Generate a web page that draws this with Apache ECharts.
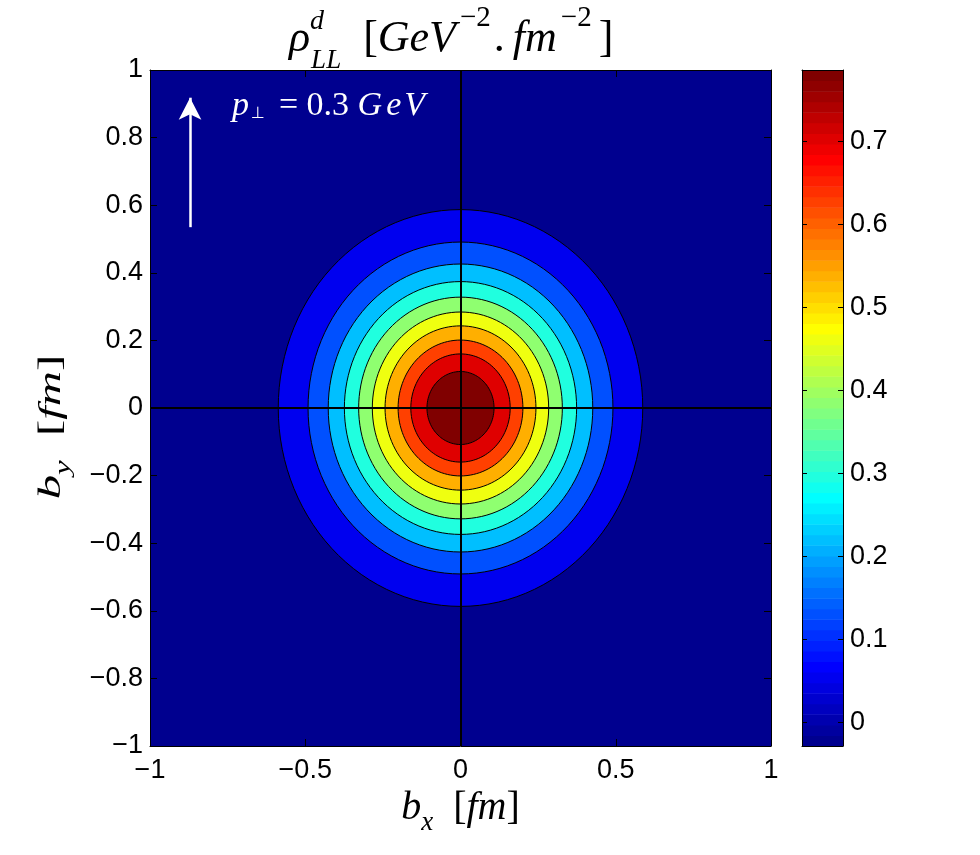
<!DOCTYPE html>
<html>
<head>
<meta charset="utf-8">
<script src="https://cdn.jsdelivr.net/npm/echarts@6/dist/echarts.min.js"></script>
<style>
html, body { margin: 0; background: #fff; }
#main { width: 980px; height: 855px; }
</style>
</head>
<body>
<div id="main"></div>
<script>
// filled contour bands, outermost first: radius of the band edge (fm) and the value it is filled with
var bandRadius = [0.587, 0.491, 0.426, 0.374, 0.328, 0.284, 0.243, 0.201, 0.160, 0.108];
var bandValue = [0.053, 0.134, 0.216, 0.297, 0.379, 0.460, 0.542, 0.623, 0.705, 0.786];
var outsideValue = -0.028;

// colour scale
var colorMin = -0.028, colorMax = 0.786;
var colorTicks = [0, 0.1, 0.2, 0.3, 0.4, 0.5, 0.6, 0.7];

// p_perp arrow (data coords)
var arrowFrom = [-0.871, 0.535];
var arrowTo = [-0.871, 0.918];

// matlab jet(64), row 1..64
function jetRow(i) {
    var r = i <= 24 ? 0 : i <= 40 ? (i - 24) / 16 : i <= 55 ? 1 : (72 - i) / 16;
    var g = i <= 8 ? 0 : i <= 24 ? (i - 8) / 16 : i <= 39 ? 1 : i <= 55 ? (56 - i) / 16 : 0;
    var b = i <= 8 ? (i + 8) / 16 : i <= 23 ? 1 : i <= 39 ? (40 - i) / 16 : 0;
    return 'rgb(' + Math.round(r * 255) + ',' + Math.round(g * 255) + ',' + Math.round(b * 255) + ')';
}
function jetColor(v) {
    var k = Math.floor((v - colorMin) / (colorMax - colorMin) * 64);
    k = Math.max(0, Math.min(63, k));
    return jetRow(k + 1);
}

var minus = function (v) { return String(v).replace('-', '\u2212'); };
var tickFont = { color: '#000', fontSize: 27, fontFamily: 'Liberation Sans' };
var serif = 'Liberation Serif, DejaVu Serif';
var blackLine = { onZero: false, lineStyle: { color: '#000', width: 1 } };

var myChart = echarts.init(document.getElementById('main'));

var stripes = [];
for (var s = 0; s < 64; s++) stripes.push([s]);

// rich styles for the latex-like labels
var labelRich = {
    i: { fontFamily: serif, fontStyle: 'italic', fontSize: 40, lineHeight: 56 },
    r: { fontFamily: serif, fontSize: 40, lineHeight: 56 },
    sub: { fontFamily: serif, fontStyle: 'italic', fontSize: 27, lineHeight: 28, verticalAlign: 'bottom' }
};

var option = {
    animation: false,
    grid: [
        { left: 150, top: 70, width: 621, height: 676, show: true, borderWidth: 0,
          backgroundColor: jetColor(outsideValue) },
        { left: 802, top: 70, width: 41, height: 676 }
    ],
    xAxis: [
        { gridIndex: 0, type: 'value', position: 'bottom', min: -1, max: 1, interval: 0.5, z: 5,
          axisLine: blackLine,
          axisTick: { inside: true, length: 7, lineStyle: { color: '#000' } },
          axisLabel: Object.assign({ margin: 11, formatter: minus }, tickFont),
          splitLine: { show: false },
          name: '{i|b}{sub|x}{r|  [}{i|fm}{r|]}', nameLocation: 'middle', nameGap: 19,
          nameTextStyle: { rich: labelRich } },
        { gridIndex: 0, type: 'value', position: 'top', min: -1, max: 1, interval: 0.5, z: 5,
          axisLine: blackLine,
          axisTick: { inside: true, length: 7, lineStyle: { color: '#000' } },
          axisLabel: { show: false }, splitLine: { show: false } },
        { gridIndex: 1, type: 'value', position: 'bottom', min: 0, max: 1, z: 5,
          axisLine: blackLine, axisTick: { show: false },
          axisLabel: { show: false }, splitLine: { show: false } },
        { gridIndex: 1, type: 'value', position: 'top', min: 0, max: 1, z: 5,
          axisLine: blackLine, axisTick: { show: false },
          axisLabel: { show: false }, splitLine: { show: false } }
    ],
    yAxis: [
        { gridIndex: 0, type: 'value', position: 'left', min: -1, max: 1, interval: 0.2, z: 5,
          axisLine: blackLine,
          axisTick: { inside: true, length: 7, lineStyle: { color: '#000' } },
          axisLabel: Object.assign({ margin: 7, formatter: minus }, tickFont),
          splitLine: { show: false } },
        { gridIndex: 0, type: 'value', position: 'right', min: -1, max: 1, interval: 0.2, z: 5,
          axisLine: blackLine,
          axisTick: { inside: true, length: 7, lineStyle: { color: '#000' } },
          axisLabel: { show: false }, splitLine: { show: false } },
        { gridIndex: 1, type: 'value', position: 'right', min: colorMin, max: colorMax, z: 5,
          axisLine: blackLine,
          axisTick: { inside: true, length: 5, customValues: colorTicks, lineStyle: { color: '#000' } },
          axisLabel: Object.assign({ margin: 7, customValues: colorTicks, formatter: minus }, tickFont),
          splitLine: { show: false } },
        { gridIndex: 1, type: 'value', position: 'left', min: colorMin, max: colorMax, z: 5,
          axisLine: blackLine,
          axisTick: { inside: true, length: 5, customValues: colorTicks, lineStyle: { color: '#000' } },
          axisLabel: { show: false }, splitLine: { show: false } }
    ],
    graphic: [
        // title  rho^d_LL [GeV^-2.fm^-2]
        { type: 'text', left: 289, top: 4, z: 10,
          style: {
              text: '{rho|\u03c1}{sup|d}{sub|LL}{r|  [}{i|GeV}{sup2|\u22122}{r|.}{fm|fm}{sup2|\u22122}{br|]}',
              rich: {
                  rho: { fontFamily: serif, fontStyle: 'italic', fontSize: 44, lineHeight: 70 },
                  sup: { fontFamily: serif, fontStyle: 'italic', fontSize: 28, lineHeight: 30, verticalAlign: 'top', width: 1, align: 'left', padding: [4, 0, 0, 0] },
                  sub: { fontFamily: serif, fontStyle: 'italic', fontSize: 27, lineHeight: 28, verticalAlign: 'bottom' },
                  i: { fontFamily: serif, fontStyle: 'italic', fontSize: 44, lineHeight: 70 },
                  fm: { fontFamily: serif, fontStyle: 'italic', fontSize: 44, lineHeight: 70, padding: [0, 0, 0, 8] },
                  r: { fontFamily: serif, fontSize: 44, lineHeight: 70 },
                  br: { fontFamily: serif, fontSize: 44, lineHeight: 70, padding: [0, 0, 0, 4] },
                  sup2: { fontFamily: serif, fontSize: 29, lineHeight: 28, verticalAlign: 'top', padding: [0, 3, 0, 4] }
              }
          } },
        // y axis label, drawn rotated
        { type: 'text', x: 52, y: 427, rotation: Math.PI / 2, scaleX: 1.22, scaleY: 0.8, z: 10,
          style: {
              text: '{i|b}{sub|y}{r|  [}{i|fm}{r|]}',
              align: 'center', verticalAlign: 'middle',
              rich: labelRich
          } },
        // p_perp annotation
        { type: 'text', left: 232, top: 89, z: 10,
          style: {
              text: '{i|p}{perp|\u22a5}{eq|=}{r| 0.3 }{G|G}{e|e}{i|V}',
              fill: '#fff',
              rich: {
                  i: { fontFamily: serif, fontStyle: 'italic', fontSize: 34, lineHeight: 40, fill: '#fff' },
                  G: { fontFamily: serif, fontStyle: 'italic', fontSize: 34, lineHeight: 40, fill: '#fff', padding: [0, 4, 0, 0] },
                  e: { fontFamily: serif, fontStyle: 'italic', fontSize: 34, lineHeight: 40, fill: '#fff', padding: [0, 3, 0, 0] },
                  r: { fontFamily: serif, fontSize: 34, lineHeight: 40, fill: '#fff' },
                  eq: { fontFamily: serif, fontSize: 34, lineHeight: 40, fill: '#fff', padding: [0, 0, 0, 14] },
                  perp: { fontFamily: 'DejaVu Sans', fontSize: 16, lineHeight: 16, verticalAlign: 'bottom', fill: '#fff', padding: [0, 0, 4, 2] }
              }
          } }
    ],
    series: [
        {
            name: 'contours',
            type: 'custom',
            xAxisIndex: 0, yAxisIndex: 0,
            clip: true,
            data: bandRadius.map(function (r, i) { return [r, bandValue[i]]; }),
            renderItem: function (params, api) {
                var r = api.value(0), v = api.value(1);
                var pts = [];
                for (var k = 0; k < 120; k++) {
                    var a = k / 120 * 2 * Math.PI;
                    pts.push(api.coord([r * Math.cos(a), r * Math.sin(a)]));
                }
                return { type: 'polygon', shape: { points: pts },
                         style: { fill: jetColor(v), stroke: '#000', lineWidth: 1 } };
            },
            markLine: {
                silent: true, symbol: 'none', animation: false,
                label: { show: false },
                lineStyle: { color: '#000', width: 2, type: 'solid' },
                emphasis: { disabled: true },
                data: [{ xAxis: 0 }, { yAxis: 0 }]
            }
        },
        {
            name: 'arrow',
            type: 'line',
            xAxisIndex: 0, yAxisIndex: 0,
            data: [],
            markLine: {
                silent: true, animation: false,
                symbol: ['none', 'arrow'], symbolSize: [17, 22],
                label: { show: false },
                lineStyle: { color: '#fff', width: 2.5, type: 'solid' },
                itemStyle: { color: '#fff' },
                emphasis: { disabled: true },
                data: [[{ coord: arrowFrom }, { coord: arrowTo }]]
            }
        },
        {
            name: 'colorbar',
            type: 'custom',
            xAxisIndex: 2, yAxisIndex: 2,
            data: stripes,
            renderItem: function (params, api) {
                var i = api.value(0);
                var v0 = colorMin + i * (colorMax - colorMin) / 64;
                var v1 = colorMin + (i + 1) * (colorMax - colorMin) / 64;
                var p0 = api.coord([0, v1]);
                var p1 = api.coord([1, v0]);
                return { type: 'rect',
                         shape: { x: p0[0], y: p0[1], width: p1[0] - p0[0], height: p1[1] - p0[1] + 0.5 },
                         style: { fill: jetRow(i + 1) } };
            }
        }
    ]
};
myChart.setOption(option);
</script>
</body>
</html>
